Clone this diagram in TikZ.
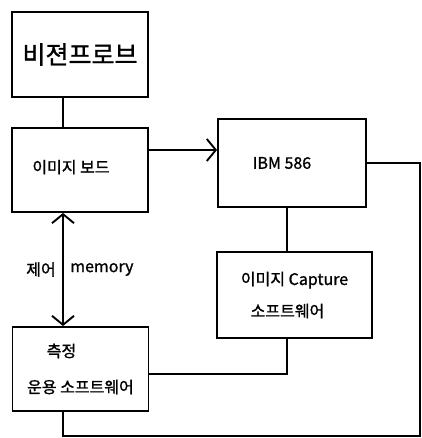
\documentclass[tikz,border=0pt]{standalone}
\usepackage{fontspec}
\setmainfont{Noto Sans CJK KR}[FakeBold=1.2]
\usetikzlibrary{arrows.meta,positioning,calc}

\begin{document}
\begin{tikzpicture}[x=1pt,y=-1pt,line width=1.9pt,
  >={Straight Barb[length=9pt,width=22pt,line width=1.9pt]},
  box/.style={draw,inner sep=0pt,align=center},
  txt/.style={font=\fontsize{16}{19}\selectfont}]
  \path[use as bounding box] (0,0) rectangle (421,438);

  \node[box,minimum width=136pt,minimum height=85pt,font=\fontsize{25}{30}\selectfont] (probe) at (80,54.5) {비젼프로브};
  \node[box,txt,minimum width=136pt,minimum height=84pt] (board) at (80,170) {\raisebox{7pt}{이미지 보드}\hspace*{18pt}};
  \node[box,txt,minimum width=136pt,minimum height=84pt,font=\fontsize{16}{36}\selectfont] (meas) at (80.5,369) {\hspace*{-38pt}측정\\운용 소프트웨어};
  \node[box,txt,minimum width=148pt,minimum height=88pt] (ibm) at (292,163) {IBM 586\hspace*{20pt}};
  \node[box,txt,minimum width=155pt,minimum height=86pt,font=\fontsize{16}{32}\selectfont] (cap) at (294.5,295) {이미지 Capture\\\hspace*{-14pt}소프트웨어};

  \coordinate (axis) at (63,0);
  \coordinate (cx) at (287,0);
  \coordinate (rc) at (420,436);
  \coordinate (arr) at ([yshift=20pt]board.east);
  \coordinate (lnk) at ([yshift=-5pt]meas.east);

  \draw (probe.south -| axis) -- (board.north -| axis);
  \draw[->] (arr) -- (ibm.west |- arr);
  \draw[<->] (board.south -| axis) -- node[txt,left=3pt] (ctrl) {제어}
    node[txt,right=3pt] (mem) {memory} (meas.north -| axis);
  \draw (ibm.south -| cx) -- (cap.north -| cx);
  \draw (cap.south -| cx) |- (lnk);
  \draw (ibm.east) -| (rc) -| (meas.south -| axis);
\end{tikzpicture}
\end{document}
